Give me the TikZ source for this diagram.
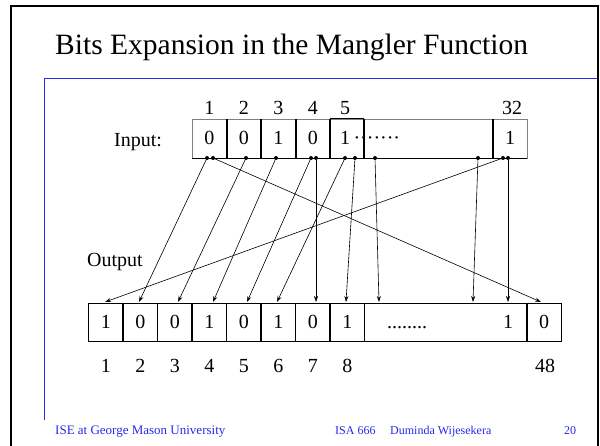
\documentclass[tikz,border=0pt]{standalone}
\usepackage{fontspec}
\setmainfont{Liberation Serif}
\usetikzlibrary{arrows.meta, positioning, calc}
\definecolor{slideblue}{RGB}{40,40,235}

\begin{document}
\begin{tikzpicture}[
    x=1pt, y=-1pt,
    bitlabel/.style={font=\fontsize{20}{20}\selectfont, inner sep=0, anchor=base},
    tap/.style={circle, fill=black, inner sep=0, minimum size=4pt},
    wire/.style={-{Stealth[length=6pt, width=4pt]}, line width=0.6pt},
    divider/.style={line width=1.6pt},
    footer/.style={font=\fontsize{12}{12}\selectfont, text=slideblue, inner sep=0, anchor=base west},
    >=Stealth
]
  \useasboundingbox (0,0) rectangle (600,446);

  % Slide frame and rules
  \draw[line width=2.2pt] (11,446) -- (11,6) -- (598,6) -- (598,446);
  \draw[slideblue, line width=1pt] (44,420) -- (44,79) -- (597,79);
  \node[anchor=base west, inner sep=0, font=\fontsize{29.5}{30}\selectfont] (title) at (55,55)
    {Bits Expansion in the Mangler Function};

  % Input register
  \draw[gray, line width=0.8pt] (192,119) rectangle (527,158);
  \foreach \x in {227,261,296,330,364,493}{
    \draw[divider] (\x,119) -- (\x,158);
  }
  \draw[line width=0.8pt] (192,158) -- (527,158);
  \draw[line width=1pt] (330,119) -- (364,119);
  \foreach \v [count=\i] in {0,0,1,0}{
    \node[bitlabel] (in\i) at ({192+34.5*(\i-0.5)},145) {\v};
    \node[bitlabel] (inidx\i) at ({192+34.5*(\i-0.5)},115) {\i};
  }
  \node[bitlabel, anchor=base west] (in5) at (340,145) {1\,·······};
  \node[bitlabel] (inidx5) at (345,115) {5};
  \node[bitlabel] (in32) at (510,145) {1};
  \node[bitlabel] (inidx32) at (512,115) {32};
  \node[bitlabel] (inlabel) at (138,147) {Input:};

  % Output register
  \draw[line width=0.8pt] (88.5,303) rectangle (561,341);
  \foreach \x in {123,157.5,192,226.5,261,295.5,330,364.5,527}{
    \draw[divider] (\x,303) -- (\x,341);
  }
  \foreach \v [count=\i] in {1,0,0,1,0,1,0,1}{
    \node[bitlabel] (out\i) at ({88.5+34.5*(\i-0.5)},329) {\v};
    \node[bitlabel] (outidx\i) at ({88.5+34.5*(\i-0.5)},373) {\i};
  }
  \node[bitlabel, anchor=base west] (outdots) at (387,329) {........};
  \node[bitlabel] (out47) at (508,329) {1};
  \node[bitlabel] (out48) at (544,329) {0};
  \node[bitlabel] (outidx48) at (545,373) {48};
  \node[bitlabel, anchor=base west] (outlabel) at (87,267) {Output};

  % Connections
  \foreach \n/\sx/\tx in {a/207/139, b/213/541, c/246/178, d/276/213, e/311/247, f/316/316,
                           g/345/277, h/355/346, k/375/379, m/478/473, p/503/105, q/508/508}{
    \node[tap] (src\n) at (\sx,158) {};
    \coordinate (dst\n) at (\tx,302);
    \draw[wire] (src\n) -- (dst\n);
  }

  % Footer
  \node[footer, font=\fontsize{13}{13}\selectfont] (school) at (55,434) {ISE at George Mason University};
  \node[footer] (course) at (335,434) {ISA 666};
  \node[footer] (author) at (390,434) {Duminda Wijesekera};
  \node[footer] (page) at (564,434) {20};
\end{tikzpicture}
\end{document}
